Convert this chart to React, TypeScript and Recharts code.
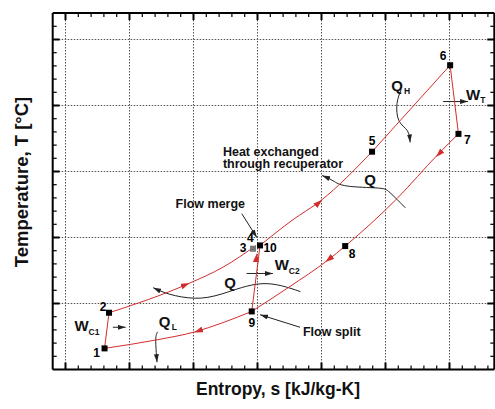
import { ComposedChart, Line, ReferenceLine, Scatter, XAxis, YAxis } from "recharts";

// axis ticks (entropy s on x, temperature T on y, arbitrary units)
const S_DOMAIN = [-0.2, 6.7];
const T_DOMAIN = [0, 5.4];
const sMajorTicks = [0, 1, 2, 3, 4, 5, 6];
const sMinorTicks = [
  0.2, 0.4, 0.6, 0.8, 1.2, 1.4, 1.6, 1.8, 2.2, 2.4, 2.6, 2.8, 3.2, 3.4, 3.6, 3.8,
  4.2, 4.4, 4.6, 4.8, 5.2, 5.4, 5.6, 5.8, 6.2, 6.4, 6.6,
];
const tMajorTicks = [1, 2, 3, 4, 5];
const tMinorTicks = [
  0.2, 0.4, 0.6, 0.8, 1.2, 1.4, 1.6, 1.8, 2.2, 2.4, 2.6, 2.8, 3.2, 3.4, 3.6, 3.8, 4.2,
  4.4, 4.6, 4.8, 5.2,
];

// cycle state points
const statePoints = [
  { id: "1", s: 0.61, T: 0.32 },
  { id: "2", s: 0.68, T: 0.86 },
  { id: "3", s: 2.93, T: 1.83 },
  { id: "4", s: 2.98, T: 1.88 },
  { id: "10", s: 3.04, T: 1.88 },
  { id: "9", s: 2.91, T: 0.88 },
  { id: "8", s: 4.37, T: 1.87 },
  { id: "5", s: 4.79, T: 3.3 },
  { id: "6", s: 6.01, T: 4.61 },
  { id: "7", s: 6.14, T: 3.57 },
];

// process lines
const path12 = [
  { s: 0.61, T: 0.32 },
  { s: 0.68, T: 0.86 },
];
const path24 = [
  { s: 0.68, T: 0.86 },
  { s: 1.92, T: 1.3 },
  { s: 2.46, T: 1.55 },
  { s: 2.98, T: 1.88 },
];
const path105 = [
  { s: 3.04, T: 1.88 },
  { s: 3.54, T: 2.26 },
  { s: 3.99, T: 2.56 },
  { s: 4.79, T: 3.3 },
];
const path56 = [
  { s: 4.79, T: 3.3 },
  { s: 6.01, T: 4.61 },
];
const path67 = [
  { s: 6.01, T: 4.61 },
  { s: 6.14, T: 3.57 },
];
const path789 = [
  { s: 6.14, T: 3.57 },
  { s: 5.82, T: 3.26 },
  { s: 5.18, T: 2.59 },
  { s: 4.37, T: 1.87 },
  { s: 4.09, T: 1.65 },
  { s: 3.51, T: 1.26 },
  { s: 2.91, T: 0.88 },
];
const path910 = [
  { s: 2.91, T: 0.88 },
  { s: 3.04, T: 1.88 },
];
const path91 = [
  { s: 2.91, T: 0.88 },
  { s: 2.46, T: 0.71 },
  { s: 2.02, T: 0.57 },
  { s: 1.43, T: 0.45 },
  { s: 0.61, T: 0.32 },
];
const cyclePaths = [path12, path24, path105, path56, path67, path789, path910, path91];

// flow direction arrows (tail, tip)
const flowArrows = [
  [{ s: 1.79, T: 1.25 }, { s: 1.94, T: 1.31 }],
  [{ s: 3.88, T: 2.46 }, { s: 4.01, T: 2.57 }],
  [{ s: 5.9, T: 3.33 }, { s: 5.79, T: 3.22 }],
  [{ s: 4.18, T: 1.72 }, { s: 4.06, T: 1.63 }],
  [{ s: 2.15, T: 0.61 }, { s: 2.01, T: 0.56 }],
  [{ s: 2.975, T: 1.62 }, { s: 2.99, T: 1.76 }],
];

// annotation arrows
const qRecupCurve = [
  { s: 5.31, T: 2.45 },
  { s: 5.07, T: 2.68 },
  { s: 4.87, T: 2.75 },
  { s: 4.4, T: 2.78 },
  { s: 4.18, T: 2.86 },
  { s: 4.01, T: 2.94 },
];
const qLowCurve = [
  { s: 3.67, T: 1.18 },
  { s: 3.07, T: 1.3 },
  { s: 2.46, T: 1.15 },
  { s: 2.02, T: 1.08 },
  { s: 1.63, T: 1.14 },
  { s: 1.37, T: 1.24 },
];
const qHCurve = [
  { s: 5.245, T: 4.24 },
  { s: 5.18, T: 4.03 },
  { s: 5.21, T: 3.77 },
  { s: 5.34, T: 3.62 },
  { s: 5.385, T: 3.44 },
];
const qLCurve = [
  { s: 1.44, T: 0.57 },
  { s: 1.41, T: 0.45 },
  { s: 1.43, T: 0.11 },
];
const wTArrow = [
  { s: 5.9, T: 4.06 },
  { s: 6.29, T: 4.06 },
];
const wC2Arrow = [
  { s: 2.83, T: 1.455 },
  { s: 3.24, T: 1.455 },
];
const wC1Arrow = [
  { s: 0.74, T: 0.64 },
  { s: 0.94, T: 0.64 },
];
const mergeArrow = [
  { s: 2.755, T: 2.36 },
  { s: 2.99, T: 2.0 },
];
const splitArrow = [
  { s: 3.665, T: 0.64 },
  { s: 3.04, T: 0.83 },
];
const annotationCurves = [qRecupCurve, qLowCurve, qHCurve, qLCurve];
const annotationArrows = [wTArrow, wC2Arrow, wC1Arrow, mergeArrow, splitArrow];

// text notes
const notes = [
  { lines: ["Flow merge"], s: 1.72, T: 2.51 },
  { lines: ["Flow split"], s: 3.71, T: 0.57 },
  { lines: ["Heat exchanged", "through recuperator"], s: 2.46, T: 3.3 },
];
const symbols = [
  { main: "Q", sub: "", s: 4.76, T: 2.875 },
  { main: "Q", sub: "", s: 2.57, T: 1.32 },
  { main: "Q", sub: "H", s: 5.18, T: 4.305 },
  { main: "W", sub: "T", s: 6.37, T: 4.17 },
  { main: "W", sub: "C2", s: 3.38, T: 1.58 },
  { main: "W", sub: "C1", s: 0.25, T: 0.66 },
  { main: "Q", sub: "L", s: 1.55, T: 0.73 },
];

const RED = "#d42c2c";
const INK = "#222";
const FONT = "'Liberation Sans', Arial, sans-serif";

// tick marks on all four sides, pointing inward
const tickMarks = [
  ...sMajorTicks.map((s) => ({ s, T: T_DOMAIN[0], dir: "up", len: 7 })),
  ...sMinorTicks.map((s) => ({ s, T: T_DOMAIN[0], dir: "up", len: 4 })),
  ...sMajorTicks.map((s) => ({ s, T: T_DOMAIN[1], dir: "down", len: 7 })),
  ...sMinorTicks.map((s) => ({ s, T: T_DOMAIN[1], dir: "down", len: 4 })),
  ...tMajorTicks.map((T) => ({ s: S_DOMAIN[0], T, dir: "right", len: 7 })),
  ...tMinorTicks.map((T) => ({ s: S_DOMAIN[0], T, dir: "right", len: 4 })),
  ...tMajorTicks.map((T) => ({ s: S_DOMAIN[1], T, dir: "left", len: 7 })),
  ...tMinorTicks.map((T) => ({ s: S_DOMAIN[1], T, dir: "left", len: 4 })),
];

const TickMark = (props: any) => {
  const { cx, cy, payload } = props;
  const { dir, len } = payload;
  const dx = dir === "right" ? len : dir === "left" ? -len : 0;
  const dy = dir === "up" ? -len : dir === "down" ? len : 0;
  return (
    <line x1={cx} y1={cy} x2={cx + dx} y2={cy + dy} stroke="#000" strokeWidth={len > 5 ? 2 : 1.2} />
  );
};

const labelOffset: Record<string, [number, number]> = {
  "1": [-8, 4],
  "2": [-6, -6],
  "3": [-10, -1],
  "4": [-6, -8],
  "10": [10, 2],
  "9": [0, 11],
  "8": [7, 8],
  "5": [0, -11],
  "6": [-7, -9],
  "7": [9, 6],
};

const StatePoint = (props: any) => {
  const { cx, cy, payload } = props;
  const [dx, dy] = labelOffset[payload.id] || [0, 0];
  const grey = payload.id === "3";
  return (
    <g>
      {payload.id !== "4" && (
        <rect x={cx - 3} y={cy - 3} width={6} height={6} fill={grey ? "#777" : "#000"} />
      )}
      <text
        x={cx + dx}
        y={cy + dy}
        dy="0.35em"
        textAnchor="middle"
        fontFamily={FONT}
        fontWeight="bold"
        fontSize={12}
        fill="#000"
      >
        {payload.id}
      </text>
    </g>
  );
};

const Note = (props: any) => {
  const { cx, cy, payload } = props;
  return (
    <text x={cx} y={cy} fontFamily={FONT} fontWeight="bold" fontSize={12.5} fill="#111">
      {payload.lines.map((l: string, i: number) => (
        <tspan key={i} x={cx} dy={i === 0 ? "0.35em" : 12}>
          {l}
        </tspan>
      ))}
    </text>
  );
};

const Symbol = (props: any) => {
  const { cx, cy, payload } = props;
  return (
    <g fontFamily={FONT} fontWeight="bold" fill="#111">
      <text x={cx} y={cy} dy="0.35em" textAnchor="middle" fontSize={15}>
        {payload.main}
      </text>
      {payload.sub && (
        <text x={cx + 7} y={cy + 6} dy="0.35em" fontSize={8.5}>
          {payload.sub}
        </text>
      )}
    </g>
  );
};

const gridStyle = { stroke: "#555", strokeDasharray: "1.5 1.5", strokeWidth: 1 };

export default function App() {
  return (
    <div style={{ position: "absolute", left: 0, top: 0, width: 495, height: 409, background: "#fff" }}>
      <ComposedChart width={495} height={409} margin={{ top: 13.1, right: 0.7, bottom: 39.5, left: 52.7 }}>
        <defs>
          <marker
            id="arrow-red"
            viewBox="0 0 10 10"
            refX="10"
            refY="5"
            markerWidth="9"
            markerHeight="6"
            markerUnits="userSpaceOnUse"
            preserveAspectRatio="none"
            orient="auto"
          >
            <path d="M0,0 L10,5 L0,10 z" fill={RED} />
          </marker>
          <marker
            id="arrow-ink"
            viewBox="0 0 10 10"
            refX="10"
            refY="5"
            markerWidth="8"
            markerHeight="5"
            markerUnits="userSpaceOnUse"
            preserveAspectRatio="none"
            orient="auto"
          >
            <path d="M0,0 L10,5 L0,10 z" fill={INK} />
          </marker>
        </defs>

        <XAxis dataKey="s" type="number" domain={S_DOMAIN} hide />
        <YAxis dataKey="T" type="number" domain={T_DOMAIN} hide />

        {/* dotted grid */}
        {sMajorTicks.map((s) => (
          <ReferenceLine key={`gx${s}`} x={s} {...gridStyle} ifOverflow="visible" />
        ))}
        {tMajorTicks.map((T) => (
          <ReferenceLine key={`gy${T}`} y={T} {...gridStyle} ifOverflow="visible" />
        ))}

        {annotationCurves.map((d, i) => (
          <Line key={`ac${i}`} data={d} dataKey="T" type="natural"
            stroke={INK} strokeWidth={1} dot={false} activeDot={false} markerEnd="url(#arrow-ink)"
            isAnimationActive={false} />
        ))}
        {annotationArrows.map((d, i) => (
          <Line key={`aa${i}`} data={d} dataKey="T" type="linear"
            stroke={INK} strokeWidth={1} dot={false} activeDot={false} markerEnd="url(#arrow-ink)"
            isAnimationActive={false} />
        ))}

        {cyclePaths.map((d, i) => (
          <Line key={`cp${i}`} data={d} dataKey="T" type="monotone"
            stroke={RED} strokeWidth={1} dot={false} activeDot={false} isAnimationActive={false} />
        ))}
        {flowArrows.map((d, i) => (
          <Line key={`fa${i}`} data={d} dataKey="T" type="linear"
            stroke="none" dot={false} activeDot={false} markerEnd="url(#arrow-red)"
            isAnimationActive={false} />
        ))}

        {/* frame */}
        <ReferenceLine x={S_DOMAIN[0]} stroke="#000" strokeWidth={2} ifOverflow="visible" />
        <ReferenceLine x={S_DOMAIN[1]} stroke="#000" strokeWidth={2} ifOverflow="visible" />
        <ReferenceLine y={T_DOMAIN[0]} stroke="#000" strokeWidth={2} ifOverflow="visible" />
        <ReferenceLine y={T_DOMAIN[1]} stroke="#000" strokeWidth={2} ifOverflow="visible" />
        <Scatter data={tickMarks} dataKey="T" shape={TickMark} isAnimationActive={false} />

        <Scatter data={statePoints} dataKey="T" shape={StatePoint} isAnimationActive={false} />
        <Scatter data={notes} dataKey="T" shape={Note} isAnimationActive={false} />
        <Scatter data={symbols} dataKey="T" shape={Symbol} isAnimationActive={false} />

        <text x={278} y={389} dy="0.35em" textAnchor="middle" fontFamily={FONT} fontWeight="bold"
          fontSize={17.5} fill="#111">
          Entropy, s [kJ/kg-K]
        </text>
        <text transform="translate(22,182) rotate(-90)" dy="0.35em" textAnchor="middle"
          fontFamily={FONT} fontWeight="bold" fontSize={18.5} fill="#111">
          Temperature, T [°C]
        </text>
      </ComposedChart>
    </div>
  );
}
